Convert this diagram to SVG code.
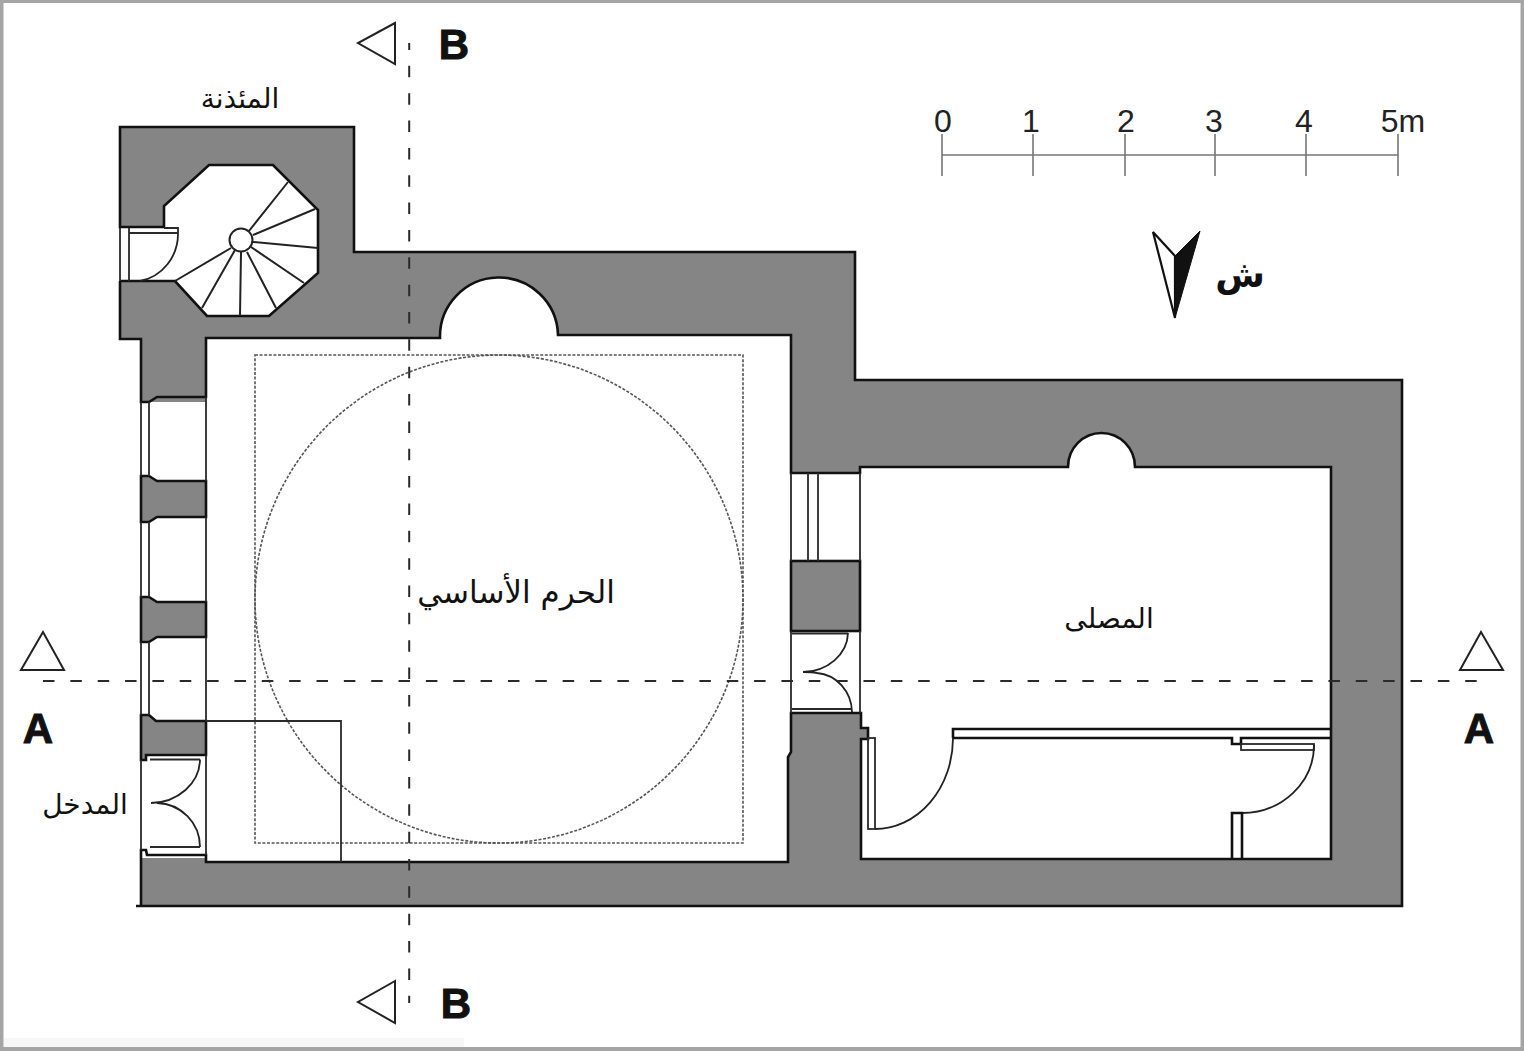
<svg xmlns="http://www.w3.org/2000/svg" width="1524" height="1051" viewBox="0 0 1524 1051">
<style>
.w{fill:none;stroke:#111;stroke-width:2.6;stroke-linejoin:miter}
.t{fill:none;stroke:#2a2a2a;stroke-width:1.8}
.st{fill:none;stroke:#222;stroke-width:2}
.a{fill:none;stroke:#222;stroke-width:1.8}
.g{fill:#858585;stroke:#111;stroke-width:2.6}
.o{fill:#fff;stroke:none}
.d{fill:none;stroke:#555;stroke-width:1.6;stroke-dasharray:3 1.6}
.s{fill:none;stroke:#2a2a2a;stroke-width:2;stroke-dasharray:11.5 15.85}
.m{fill:none;stroke:#777;stroke-width:1.6}
.tri{fill:#fff;stroke:#222;stroke-width:2}
.ar{font-family:"DejaVu Sans",sans-serif;fill:#111;text-anchor:middle}
.lat{font-family:"Liberation Sans",Arial,sans-serif;fill:#222;text-anchor:middle;font-size:32px}
.sec{font-family:"Liberation Sans",Arial,sans-serif;fill:#111;stroke:#111;stroke-width:1;text-anchor:middle;font-size:42px;font-weight:700}
</style>
<rect x="0" y="0" width="1524" height="1051" fill="#a5a5a5"/>
<rect x="3.500" y="3" width="1517" height="1044" fill="#fff"/>
<rect x="4" y="1038" width="460" height="9" fill="#f7f7f7"/>
<g id="walls">
<path fill="#858585" d="M120,127H354V252H855V380H1402V906H141V339H120Z"/>
<path class="o" d="M206,338H440A59,59 0 0 1 558,335H791V473H860V467H1068A33.5,34 0 1 1 1135,467H1331V859H861V739H868V728H861V713H791V752L788,757V862H206V855H147L146,850H141V760H141V402H206Z"/>
<rect class="o" x="139" y="403" width="67" height="455"/>
<path class="o" d="M164,206L209,165H273L318,210V273L269,316H207L175,281H118V227H164Z"/>
<path class="w" d="M164,227V206L209,165H273L318,210V273L269,316H207L175,281H120M120,281V339H141V402H149L157,397H206V338H440A59,59 0 0 1 558,335L562,335H791V473H860V467H1068A33.5,34 0 1 1 1135,467H1331V859H861V739H868V728H861V713H791V752L788,757V862H206V855H147L146,850H141V906M136,906H1402V380H855V252H354V127H120V227H164"/>
<path class="g" d="M141,476H149L157,481H206V517H157L149,522H141Z"/>
<path class="g" d="M141,597H149L157,602H206V637H157L149,642H141Z"/>
<path class="g" d="M141,715H149L156,721H206V755H146V760H141Z"/>
<rect class="g" x="791" y="561" width="69" height="70"/>
<path class="t" d="M141,402V476M149,402V476M141,522V597M149,522V597M141,642V715M149,642V715M141,760V850M206,397V481M206,517V602M206,637V721M206,755V855"/>
<path class="t" d="M791,473V561M860,473V561M808,473V561M818,473V561M791,631V713M860,631V713"/>
</g>
<g id="minaret">
<path class="t" d="M120,228V281M129,228V281M129,233H178M164,228H178V233"/>
<path class="a" d="M178,233A46,48 0 0 1 140,281"/>
<circle cx="241" cy="240" r="11.500" fill="#fff" stroke="#222" stroke-width="2"/>
<path class="st" d="M249,231L288,182M253,235L315,209M253,242L318,248M251,247L304,283M247,252L276,308M241,252L240,316M235,250L202,308M231,248L175,281"/>
</g>
<g id="dome">
<rect class="d" x="255" y="355" width="488" height="488"/>
<circle class="d" cx="499" cy="599" r="244"/>
<path class="t" d="M206,721H341V862"/>
</g>
<g id="doors">
<path class="t" d="M150,759.500H200M150,847H200"/>
<path class="a" d="M200,759.500A50,44 0 0 1 151,803M157,803A44,44 0 0 1 200,847"/>
<path class="t" d="M792,633.500H848M792,709H851"/>
<path class="a" d="M848,633A46,40 0 0 1 803,672C808,672 812,672 817,673A38,40 0 0 1 852,712"/>
<rect class="t" x="868" y="738" width="7" height="91"/>
<path class="a" d="M875,829A78,91 0 0 0 953,738"/>
<path class="w" d="M953,738V729H1331M953,738H1232V744H1241V738H1331"/>
<rect class="t" x="1241" y="744" width="73" height="6"/>
<path class="a" d="M1314,745A72,68 0 0 1 1242,813"/>
<path class="w" d="M1232,859V813H1242V859"/>
</g>
<g id="sections">
<path class="s" d="M43,681H1482"/>
<path class="s" stroke-dashoffset="4.500" d="M409.200,43V1003"/>
<polygon class="tri" points="395,23 358,43 395,64"/>
<polygon class="tri" points="395,981 358,1002 395,1023"/>
<polygon class="tri" points="43,632 21,670 64,670"/>
<polygon class="tri" points="1481,632 1460,670 1503,670"/>
<text class="sec" x="454" y="59">B</text>
<text class="sec" x="456" y="1018">B</text>
<text class="sec" x="38" y="743">A</text>
<text class="sec" x="1479" y="743">A</text>
</g>
<g id="scale">
<path class="m" d="M942,155H1398M942,134V176M1033,134V176M1125,134V176M1215,134V176M1306,134V176M1398,134V176"/>
<text class="lat" x="943" y="132">0</text>
<text class="lat" x="1031" y="132">1</text>
<text class="lat" x="1126" y="132">2</text>
<text class="lat" x="1214" y="132">3</text>
<text class="lat" x="1304" y="132">4</text>
<text class="lat" x="1403" y="132">5m</text>
</g>
<g id="north">
<path fill="#fff" stroke="#111" stroke-width="2.200" d="M1153,232L1175,256V318Z"/>
<path fill="#111" stroke="#111" d="M1200,231L1175,256V318Z"/>
<text class="ar" x="1240" y="287" font-size="36" font-weight="700">ش</text>
</g>
<g id="labels">
<text class="ar" x="240" y="108" font-size="28">المئذنة</text>
<text class="ar" x="516" y="603" font-size="31">الحرم الأساسي</text>
<text class="ar" x="1109" y="628" font-size="28">المصلى</text>
<text class="ar" x="85" y="814" font-size="28">المدخل</text>
</g>
</svg>
